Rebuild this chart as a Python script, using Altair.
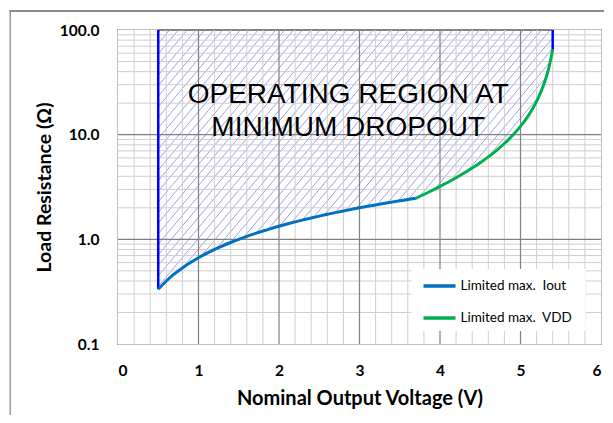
import altair as alt
import pandas as pd

# ---- data ----
iout_v = [0.5, 0.6, 0.7, 0.8, 0.9, 1.0, 1.1, 1.2, 1.3, 1.4, 1.5, 1.6, 1.7, 1.8, 1.9,
          2.0, 2.1, 2.2, 2.3, 2.4, 2.5, 2.6, 2.7, 2.8, 2.9, 3.0, 3.1, 3.2, 3.3, 3.4,
          3.5, 3.6, 3.7]
iout_r = [0.333, 0.40, 0.467, 0.533, 0.60, 0.667, 0.733, 0.80, 0.867, 0.933, 1.0,
          1.067, 1.133, 1.20, 1.267, 1.333, 1.40, 1.467, 1.533, 1.60, 1.667, 1.733,
          1.80, 1.867, 1.933, 2.0, 2.067, 2.133, 2.20, 2.267, 2.333, 2.40, 2.467]
vdd_v = [3.7, 3.8, 3.9, 4.0, 4.1, 4.2, 4.3, 4.4, 4.5, 4.6, 4.7, 4.8, 4.9, 5.0,
         5.1, 5.2, 5.3, 5.35, 5.4]
vdd_r = [2.467, 2.68, 2.93, 3.20, 3.51, 3.88, 4.30, 4.80, 5.40, 6.13, 7.05, 8.23,
         9.80, 12.0, 15.3, 20.8, 31.8, 42.8, 64.8]
series_names = ["Limited max.\u00a0 Iout", "Limited max.\u00a0 VDD"]
series_colors = ["#0070C0", "#00B050"]

# vertical boundary lines of the operating region
edge_x = [0.5, 5.4]
edge_lo = [0.333, 64.8]
edge_hi = [100.0, 100.0]

# regions outside the operating area (x ranges)
out_x0 = [0.0, 5.4]
out_x1 = [0.5, 6.0]

x_ticks = [0, 1, 2, 3, 4, 5, 6]
y_ticks = [0.1, 1, 10, 100]
x_minor = [round(i * 0.2, 1) for i in range(31) if i % 5 != 0]
y_minor = [k * 10.0 ** e for e in (-1, 0, 1) for k in range(2, 10)]
x_major = [1, 2, 3, 4, 5]
y_major = [1, 10]

ann_x = [2.86]
ann_y = [20.0]
ann_text = ["OPERATING REGION AT\nMINIMUM DROPOUT"]

# ---- frames ----
curves = pd.DataFrame({
    "V": iout_v + vdd_v,
    "R": iout_r + vdd_r,
    "series": [series_names[0]] * len(iout_v) + [series_names[1]] * len(vdd_v),
})
mask_df = pd.DataFrame({"V": iout_v + vdd_v[1:], "R": iout_r + vdd_r[1:]})
edges = pd.DataFrame({"x": edge_x, "lo": edge_lo, "hi": edge_hi})
outside = pd.DataFrame({"x0": out_x0, "x1": out_x1, "y0": [0.1, 0.1], "y1": [100.0, 100.0]})
ann = pd.DataFrame({"x": ann_x, "y": ann_y, "t": ann_text})

W, H = 483, 314
FONT = "Lato"

xscale = alt.Scale(domain=[0, 6], nice=False)
yscale = alt.Scale(type="log", domain=[0.1, 100], nice=False)

xaxis = alt.Axis(values=x_ticks, format="d", grid=False, ticks=False, tickSize=0, domain=False,
                 labelFont=FONT, labelFontWeight="bold", labelFontSize=15.5, labelColor="#000000",
                 labelBaseline="middle", labelPadding=26,
                 title="Nominal Output Voltage (V)", titleFont=FONT, titleFontWeight="bold",
                 titleFontSize=20, titleColor="#000000", titleX=241.5, titleY=54,
                 titleBaseline="middle", titleAlign="center")
yaxis = alt.Axis(values=y_ticks, format=".1f", grid=False, ticks=False, tickSize=0, domain=False,
                 labelFont=FONT, labelFontWeight="bold", labelFontSize=15.5, labelColor="#000000",
                 labelPadding=19,
                 title="Load Resistance (Ω)", titleFont=FONT, titleFontWeight="bold",
                 titleFontSize=19.5, titleColor="#000000", titleX=-74, titleY=157,
                 titleBaseline="middle", titleAlign="center", titleAngle=270)

# hatch texture of the operating region
hatch = alt.Chart(alt.sequence(-3.4, 6.1, 0.11, as_="k")).transform_calculate(
    k2="datum.k + 3.27", y0="0.1", y1="100"
).mark_rule(clip=True, color="#A0A0EE", strokeWidth=1).encode(
    x=alt.X("k:Q", scale=xscale, axis=xaxis),
    x2="k2:Q",
    y=alt.Y("y0:Q", scale=yscale, axis=yaxis),
    y2="y1:Q",
)

mask_under = alt.Chart(mask_df).mark_area(color="white", stroke="white", strokeWidth=1,
                                          interpolate="monotone").encode(
    x="V:Q", y="R:Q", y2=alt.datum(0.1)
)
mask_side = alt.Chart(outside).mark_rect(color="white", stroke="white", strokeWidth=1).encode(
    x="x0:Q", x2="x1:Q", y="y0:Q", y2="y1:Q"
)

grid_minor_x = alt.Chart(pd.DataFrame({"g": x_minor})).mark_rule(color="#CFCFCF", strokeWidth=1).encode(x="g:Q")
grid_minor_y = alt.Chart(pd.DataFrame({"g": y_minor})).mark_rule(color="#CFCFCF", strokeWidth=1).encode(y="g:Q")
grid_major_x = alt.Chart(pd.DataFrame({"g": x_major})).mark_rule(color="#808080", strokeWidth=1.2).encode(x="g:Q")
grid_major_y = alt.Chart(pd.DataFrame({"g": y_major})).mark_rule(color="#808080", strokeWidth=1.2).encode(y="g:Q")

dummy = pd.DataFrame({"d": [0]})
# white box behind the legend
legend_box = alt.Chart(dummy).mark_rect(color="white").encode(
    x=alt.value(293.5), x2=alt.value(467.5), y=alt.value(239), y2=alt.value(301))

edge_lines = alt.Chart(edges).mark_rule(color="#0000FF", strokeWidth=2.5).encode(
    x="x:Q", y="lo:Q", y2="hi:Q"
)

lines = alt.Chart(curves).mark_line(strokeWidth=3, interpolate="monotone").encode(
    x="V:Q",
    y="R:Q",
    color=alt.Color("series:N", title=None,
                    scale=alt.Scale(domain=series_names, range=series_colors),
                    legend=alt.Legend(orient="none", legendX=301.5, legendY=236,
                                      padding=2, symbolType="stroke",
                                      symbolSize=1024, symbolStrokeWidth=3.5,
                                      labelFont=FONT, labelFontSize=13.5, labelColor="#000000",
                                      labelOffset=3, rowPadding=7, labelLimit=220)),
)

label = alt.Chart(ann).mark_text(font="Liberation Sans", fontSize=28, color="#000000",
                                 align="center", baseline="alphabetic", lineBreak="\n",
                                 lineHeight=33).encode(x="x:Q", y="y:Q", text="t:N")

# outer chart-area frame (thin filled bars)
frame_v = alt.Chart(dummy).mark_rect(color="#999999").encode(
    x=alt.value(-108.5), x2=alt.value(-107), y=alt.value(-20), y2=alt.value(390))
frame_h = alt.Chart(dummy).mark_rect(color="#8C8C8C").encode(
    x=alt.value(-108.5), x2=alt.value(486), y=alt.value(-20), y2=alt.value(-18))

chart = alt.layer(
    hatch, mask_under, mask_side,
    grid_minor_x, grid_minor_y, grid_major_x, grid_major_y,
    legend_box, edge_lines, lines, label, frame_v, frame_h,
).properties(
    width=W, height=H,
    autosize=alt.AutoSizeParams(type="none"),
    padding={"left": 110, "top": 22, "right": 4, "bottom": 71},
    background="white",
).configure_view(stroke="#595959", strokeWidth=1.5)

chart.save("out.html", embed_options={"renderer": "svg", "actions": False})
